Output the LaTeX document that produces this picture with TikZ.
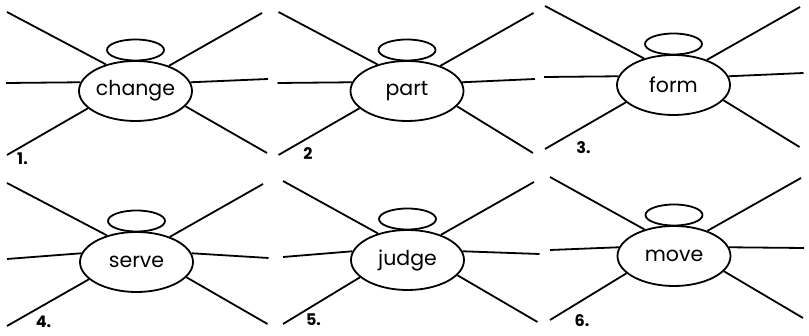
\documentclass[tikz,border=0pt]{standalone}
\usepackage{fontspec}
\setmainfont{Poppins}
\usetikzlibrary{shapes.geometric}

\tikzset{
  wordnode/.style={draw, ellipse, line width=1.8pt, inner sep=0pt,
    minimum width=113pt, minimum height=60pt, font=\fontsize{20.5}{22}\selectfont},
  halonode/.style={draw, ellipse, line width=1.8pt, inner sep=0pt,
    minimum width=57pt, minimum height=21pt},
  spoke/.style={line width=1.8pt},
  numlabel/.style={font=\fontsize{16}{18}\selectfont\bfseries, inner sep=0pt}
}

\begin{document}
\begin{tikzpicture}[x=1pt, y=1pt]
  \useasboundingbox (0,0) rectangle (809,336);

  \begin{scope}[shift={(135.5,245)}]
    \node[wordnode] (change) at (0,0) {change};
    \node[halonode] (changetop) at (0,41) {};
    \coordinate (change-ul) at (-128.5,79);
    \coordinate (change-ur) at (126.5,78);
    \coordinate (change-l) at (-129.5,8);
    \coordinate (change-r) at (132.5,12);
    \coordinate (change-ll) at (-128.5,-64);
    \coordinate (change-lr) at (131.5,-62);
    \draw[spoke] (change-ul) -- (change.138) (change-ur) -- (change.37)
      (change-l) -- (change.171) (change-r) -- (change.9)
      (change-ll) -- (change.200) (change-lr) -- (change.343);
    \node[numlabel] (n1) at (-113,-68) {1.};
  \end{scope}

  \begin{scope}[shift={(407,245)}]
    \node[wordnode] (part) at (0,0) {part};
    \node[halonode] (parttop) at (0,41) {};
    \coordinate (part-ul) at (-128.5,79);
    \coordinate (part-ur) at (126.5,78);
    \coordinate (part-l) at (-129.5,8);
    \coordinate (part-r) at (128,12);
    \coordinate (part-ll) at (-128.5,-64);
    \coordinate (part-lr) at (126,-62);
    \draw[spoke] (part-ul) -- (part.138) (part-ur) -- (part.37)
      (part-l) -- (part.171) (part-r) -- (part.9)
      (part-ll) -- (part.200) (part-lr) -- (part.343);
    \node[numlabel] (n2) at (-99,-63) {2};
  \end{scope}

  \begin{scope}[shift={(673.5,251)}]
    \node[wordnode] (form) at (0,0) {form};
    \node[halonode] (formtop) at (0,41) {};
    \coordinate (form-ul) at (-128.5,79);
    \coordinate (form-ur) at (126.5,78);
    \coordinate (form-l) at (-129.5,8);
    \coordinate (form-r) at (130,12);
    \coordinate (form-ll) at (-128.5,-64);
    \coordinate (form-lr) at (126,-62);
    \draw[spoke] (form-ul) -- (form.138) (form-ur) -- (form.37)
      (form-l) -- (form.171) (form-r) -- (form.9)
      (form-ll) -- (form.200) (form-lr) -- (form.343);
    \node[numlabel] (n3) at (-90,-63) {3.};
  \end{scope}

  \begin{scope}[shift={(136.5,74)}]
    \node[wordnode] (serve) at (0,0) {serve};
    \node[halonode] (servetop) at (0,41) {};
    \coordinate (serve-ul) at (-129.5,79);
    \coordinate (serve-ur) at (126.5,78);
    \coordinate (serve-l) at (-129.5,3);
    \coordinate (serve-r) at (132,4);
    \coordinate (serve-ll) at (-129.5,-64);
    \coordinate (serve-lr) at (131,-62);
    \draw[spoke] (serve-ul) -- (serve.138) (serve-ur) -- (serve.37)
      (serve-l) -- (serve.171) (serve-r) -- (serve.9)
      (serve-ll) -- (serve.200) (serve-lr) -- (serve.343);
    \node[numlabel] (n4) at (-93,-60) {4.};
  \end{scope}

  \begin{scope}[shift={(407.5,76)}]
    \node[wordnode] (judge) at (0,0) {judge};
    \node[halonode] (judgetop) at (0,41) {};
    \coordinate (judge-ul) at (-124.5,79);
    \coordinate (judge-ur) at (126.5,78);
    \coordinate (judge-l) at (-124.5,3);
    \coordinate (judge-r) at (132,6);
    \coordinate (judge-ll) at (-124.5,-64);
    \coordinate (judge-lr) at (130,-62);
    \draw[spoke] (judge-ul) -- (judge.138) (judge-ur) -- (judge.37)
      (judge-l) -- (judge.171) (judge-r) -- (judge.9)
      (judge-ll) -- (judge.200) (judge-lr) -- (judge.343);
    \node[numlabel] (n5) at (-94,-60) {5.};
  \end{scope}

  \begin{scope}[shift={(674,80)}]
    \node[wordnode] (move) at (0,0) {move};
    \node[halonode] (movetop) at (0,41) {};
    \coordinate (move-ul) at (-124,79);
    \coordinate (move-ur) at (127,78);
    \coordinate (move-l) at (-124,6);
    \coordinate (move-r) at (130,8);
    \coordinate (move-ll) at (-124,-64);
    \coordinate (move-lr) at (129,-62);
    \draw[spoke] (move-ul) -- (move.138) (move-ur) -- (move.37)
      (move-l) -- (move.171) (move-r) -- (move.9)
      (move-ll) -- (move.200) (move-lr) -- (move.343);
    \node[numlabel] (n6) at (-92,-65) {6.};
  \end{scope}

\end{tikzpicture}
\end{document}
